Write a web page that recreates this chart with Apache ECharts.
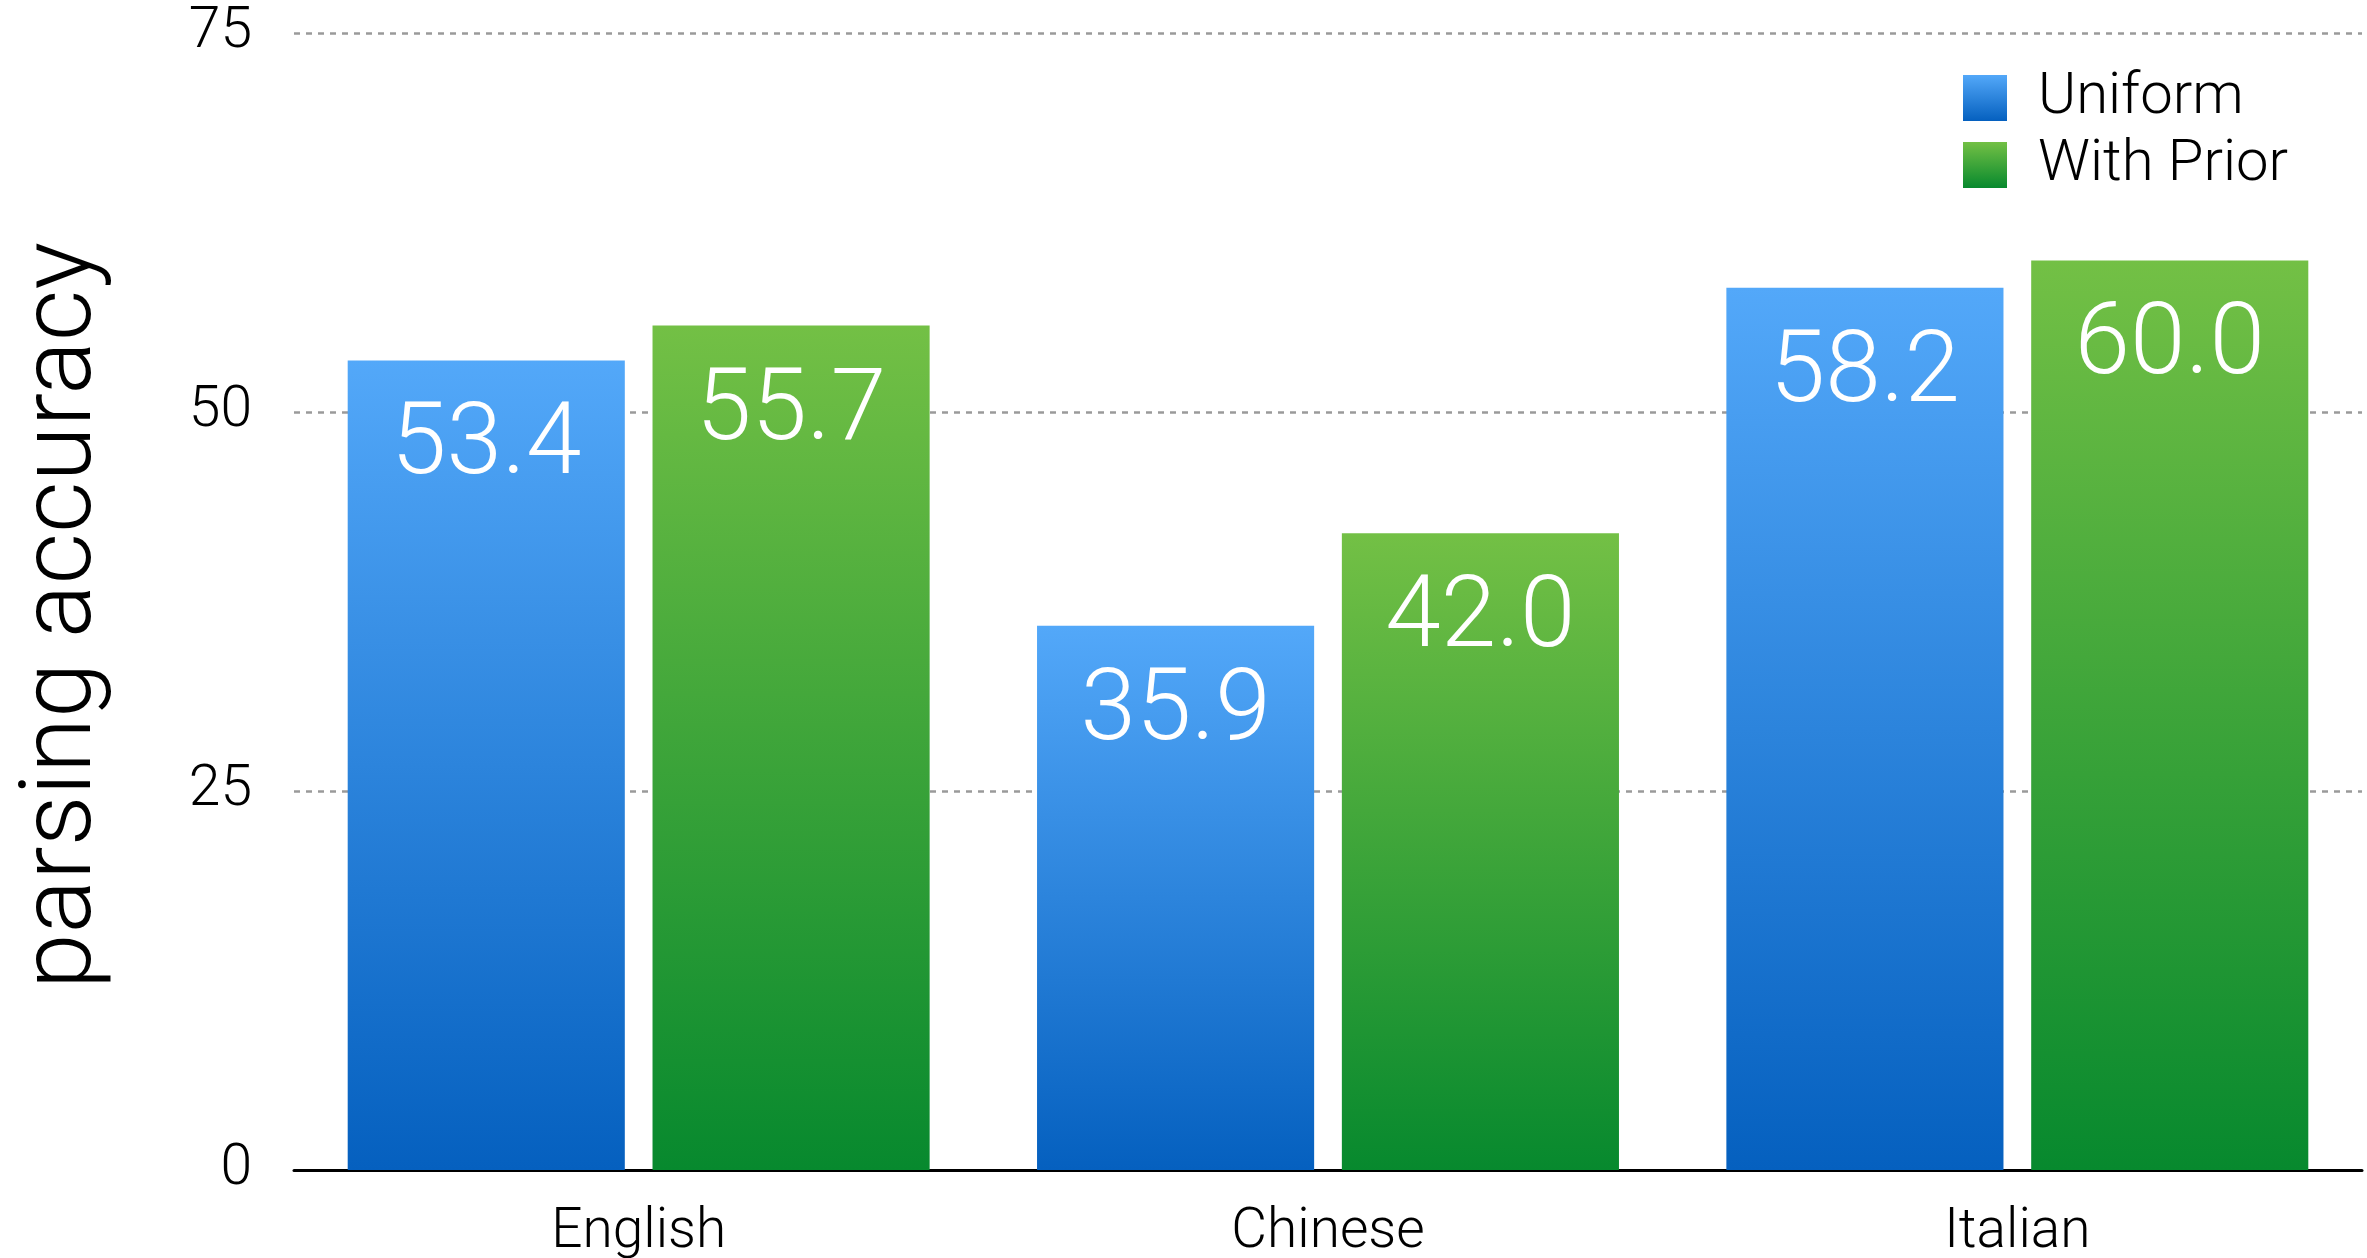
<!DOCTYPE html>
<html lang="en">
<head>
    <meta charset="UTF-8">
    <title>parsing accuracy</title>
    <script type="text/javascript" src="https://cdn.jsdelivr.net/npm/echarts@6/dist/echarts.min.js"></script>
    <style>
        html, body { margin: 0; padding: 0; background: #fff; }
    </style>
</head>
<body>
    <div id="chart1" style="width:2367px;height:1258px;"></div>
</body>
<script type="text/javascript">
    // data
    var languages = ['English', 'Chinese', 'Italian']
    var uniform = [53.4, 35.9, 58.2]
    var withPrior = [55.7, 42.0, 60.0]
    var yTicks = [0, 25, 50, 75]

    var font = 'Roboto, "Helvetica Neue", Arial, sans-serif'

    function grad(top, bottom) {
        return new echarts.graphic.LinearGradient(0, 0, 0, 1, [
            {offset: 0, color: top},
            {offset: 1, color: bottom}
        ])
    }

    var chart = echarts.init(document.getElementById('chart1'))

    var barLabel = {
        show: true,
        position: 'insideTop',
        distance: 38,
        color: '#fff',
        fontFamily: font,
        fontWeight: 300,
        fontSize: 100,
        formatter: function (p) { return p.value.toFixed(1) }
    }

    var option = {
        backgroundColor: '#fff',
        animation: false,
        grid: {left: 294, right: 5, top: 33, bottom: 88, outerBoundsMode: 'none'},
        legend: {
            orient: 'vertical',
            left: 1958,
            top: 64,
            icon: 'rect',
            itemWidth: 44,
            itemHeight: 46,
            itemGap: 9,
            textStyle: {fontFamily: font, fontWeight: 300, fontSize: 58, color: '#000', padding: [0, 0, 0, 26]},
            data: ['Uniform', 'With Prior']
        },
        xAxis: {
            type: 'category',
            data: languages,
            axisTick: {show: false},
            axisLine: {lineStyle: {color: '#000', width: 3}},
            axisLabel: {fontFamily: font, fontWeight: 300, fontSize: 55, color: '#000', margin: 36}
        },
        yAxis: {
            type: 'value',
            min: yTicks[0],
            max: yTicks[yTicks.length - 1],
            interval: 25,
            name: 'parsing accuracy',
            nameLocation: 'middle',
            nameGap: 179,
            nameTextStyle: {fontFamily: font, fontWeight: 300, fontSize: 100, color: '#000', padding: [0, 28, 0, 0]},
            axisLine: {show: false},
            axisTick: {show: false},
            axisLabel: {fontFamily: font, fontWeight: 300, fontSize: 57, color: '#000', margin: 42},
            splitLine: {lineStyle: {color: '#9a9a9a', width: 2.5, type: [6, 6]}}
        },
        series: [
            {
                name: 'Uniform',
                type: 'bar',
                data: uniform,
                barWidth: '40.2%',
                barGap: '10%',
                itemStyle: {color: grad('#53a8f9', '#0560bf')},
                label: barLabel
            },
            {
                name: 'With Prior',
                type: 'bar',
                data: withPrior,
                barWidth: '40.2%',
                itemStyle: {color: grad('#73c045', '#07892e')},
                label: barLabel
            }
        ]
    }
    chart.setOption(option)
</script>
</html>
